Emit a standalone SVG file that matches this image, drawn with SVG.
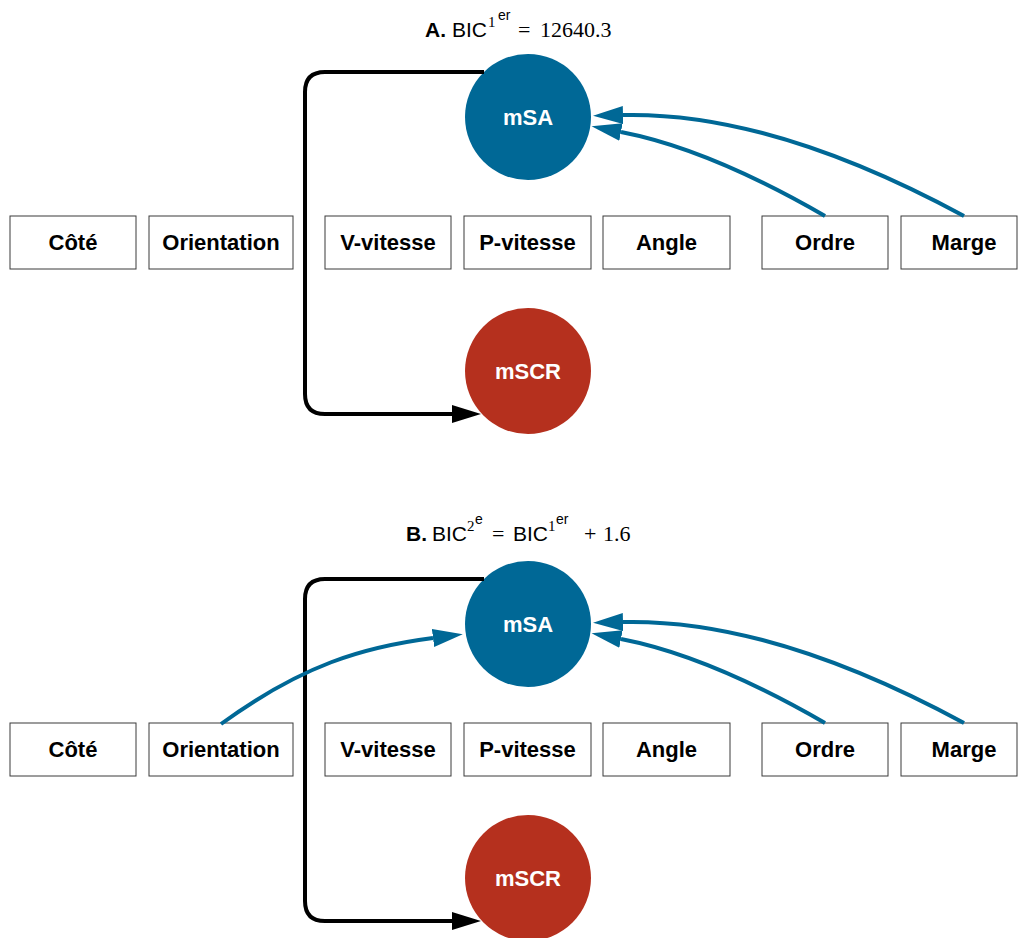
<svg xmlns="http://www.w3.org/2000/svg" width="1018" height="938" viewBox="0 0 1018 938">
<style>
.box{fill:#fff;stroke:#3a3a3a;stroke-width:1}
.lbl{font-family:"Liberation Sans",Arial,sans-serif;font-weight:bold;font-size:22px;fill:#000;text-anchor:middle}
.clbl{font-family:"Liberation Sans",Arial,sans-serif;font-weight:bold;font-size:22px;fill:#fff;text-anchor:middle}
.sa{fill:#006896}
.scr{fill:#b5301e}
.blue{fill:none;stroke:#006896;stroke-width:4}
.black{fill:none;stroke:#000;stroke-width:4}
.t{font-family:"Liberation Sans",Arial,sans-serif;font-size:21px;fill:#000}
.tb{font-weight:bold}
.m{font-family:"Liberation Serif","Times New Roman",serif;font-size:22px}
.sup{font-size:14px}
.msup{font-family:"Liberation Serif","Times New Roman",serif;font-size:15px}
</style>
<defs>
<marker id="ab" markerUnits="userSpaceOnUse" viewBox="0 0 30 18" refX="0" refY="9" markerWidth="30" markerHeight="18" orient="auto"><path d="M0,0 L30,9 L0,18 z" fill="#006896"/></marker>
<marker id="ak" markerUnits="userSpaceOnUse" viewBox="0 0 29 18" refX="0" refY="9" markerWidth="29" markerHeight="18" orient="auto"><path d="M0,0 L29,9 L0,18 z" fill="#000"/></marker>
</defs>

<g id="titles">
<text class="t" y="37"><tspan x="425" class="tb">A.</tspan><tspan x="452">BIC</tspan><tspan x="488" y="27" class="msup">1</tspan><tspan x="498" y="20" class="sup">er</tspan><tspan x="518" y="37" class="m">=</tspan><tspan x="540" y="37" class="m">12640.3</tspan></text>
<text class="t" y="541"><tspan x="406" class="tb">B.</tspan><tspan x="432">BIC</tspan><tspan x="467" y="531" class="msup">2</tspan><tspan x="475" y="524" class="sup">e</tspan><tspan x="492" y="541" class="m">=</tspan><tspan x="513" y="541">BIC</tspan><tspan x="548" y="531" class="msup">1</tspan><tspan x="556" y="524" class="sup">er</tspan><tspan x="584" y="541" class="m">+</tspan><tspan x="603" y="541" class="m">1.6</tspan></text>
</g>

<g id="panelA">
<g id="A-cote"><rect class="box" x="10" y="216" width="126" height="53"/><text class="lbl" x="73" y="250">Côté</text></g>
<g id="A-orientation"><rect class="box" x="149" y="216" width="144" height="53"/><text class="lbl" x="221" y="250">Orientation</text></g>
<g id="A-vvitesse"><rect class="box" x="325" y="216" width="126" height="53"/><text class="lbl" x="388" y="250">V-vitesse</text></g>
<g id="A-pvitesse"><rect class="box" x="464" y="216" width="127" height="53"/><text class="lbl" x="527.5" y="250">P-vitesse</text></g>
<g id="A-angle"><rect class="box" x="603" y="216" width="127" height="53"/><text class="lbl" x="666.5" y="250">Angle</text></g>
<g id="A-ordre"><rect class="box" x="762" y="216" width="126" height="53"/><text class="lbl" x="825" y="250">Ordre</text></g>
<g id="A-marge"><rect class="box" x="901" y="216" width="116" height="53"/><text class="lbl" x="964" y="250">Marge</text></g>
<g id="A-mSA"><circle class="sa" cx="528" cy="117" r="63"/><text class="clbl" x="528" y="125">mSA</text></g>
<g id="A-mSCR"><circle class="scr" cx="528" cy="371" r="63"/><text class="clbl" x="528" y="379">mSCR</text></g>
</g>

<g id="panelB">
<g id="B-cote"><rect class="box" x="10" y="723" width="126" height="53"/><text class="lbl" x="73" y="757">Côté</text></g>
<g id="B-orientation"><rect class="box" x="149" y="723" width="144" height="53"/><text class="lbl" x="221" y="757">Orientation</text></g>
<g id="B-vvitesse"><rect class="box" x="325" y="723" width="126" height="53"/><text class="lbl" x="388" y="757">V-vitesse</text></g>
<g id="B-pvitesse"><rect class="box" x="464" y="723" width="127" height="53"/><text class="lbl" x="527.5" y="757">P-vitesse</text></g>
<g id="B-angle"><rect class="box" x="603" y="723" width="127" height="53"/><text class="lbl" x="666.5" y="757">Angle</text></g>
<g id="B-ordre"><rect class="box" x="762" y="723" width="126" height="53"/><text class="lbl" x="825" y="757">Ordre</text></g>
<g id="B-marge"><rect class="box" x="901" y="723" width="116" height="53"/><text class="lbl" x="964" y="757">Marge</text></g>
<g id="B-mSA"><circle class="sa" cx="528" cy="624" r="63"/><text class="clbl" x="528" y="632">mSA</text></g>
<g id="B-mSCR"><circle class="scr" cx="528" cy="878" r="63"/><text class="clbl" x="528" y="886">mSCR</text></g>
</g>

<g id="connectors">
<path class="black" d="M484,72 H325 Q305,72 305,92 V394 Q305,414 325,414 H452" marker-end="url(#ak)"/>
<path class="blue" d="M964,216 C820,138 710,113 623,115" marker-end="url(#ab)"/>
<path class="blue" d="M825,216 Q709,149 621,132" marker-end="url(#ab)"/>
<path class="black" d="M484,579 H325 Q305,579 305,599 V901 Q305,921 325,921 H452" marker-end="url(#ak)"/>
<path class="blue" d="M221,724 C302,665 363,647 433,638" marker-end="url(#ab)"/>
<path class="blue" d="M964,723 C820,645 710,620 623,622" marker-end="url(#ab)"/>
<path class="blue" d="M825,723 Q709,656 621,639" marker-end="url(#ab)"/>
</g>
</svg>
